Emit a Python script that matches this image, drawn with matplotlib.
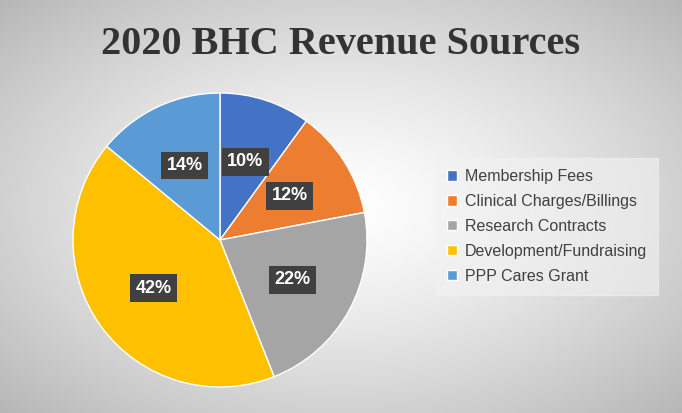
import matplotlib
matplotlib.use("Agg")
import matplotlib.pyplot as plt
import numpy as np

categories = ["Membership Fees", "Clinical Charges/Billings", "Research Contracts",
              "Development/Fundraising", "PPP Cares Grant"]
values = [10, 12, 22, 42, 14]
colors = ["#4472C4", "#ED7D31", "#A5A5A5", "#FFC000", "#5B9BD5"]

W, H = 682, 413
fig = plt.figure(figsize=(W/100, H/100), dpi=100)

bg = fig.add_axes([0, 0, 1, 1])
yy, xx = np.mgrid[0:H, 0:W]
d = np.sqrt(((xx - W/2) / (W*0.62))**2 + ((yy - H/2) / (H*0.62))**2)
g = np.clip(1 - 0.24*d**1.3, 0, 1)
bg.imshow(np.dstack([g, g, g]), extent=[0, 1, 0, 1], aspect="auto", origin="lower")
bg.axis("off")

fig.text(0.5, 1 - 45/H, "2020 BHC Revenue Sources", ha="center", va="center",
         fontsize=29, fontweight="bold", family="Liberation Serif", color="#333333")

R = 147
cx, cy = 220, 240
ax = fig.add_axes([(cx-R)/W, (H-cy-R)/H, 2*R/W, 2*R/H])
wedges, texts, autotexts = ax.pie(values, colors=colors, startangle=90, counterclock=False,
                                  autopct="%d%%", pctdistance=0.56,
                                  wedgeprops=dict(edgecolor="white", linewidth=1))
for t in autotexts:
    t.set_color("white"); t.set_fontweight("bold"); t.set_fontsize(13)
    t.set_family("Liberation Sans")
    t.set_bbox(dict(boxstyle="square,pad=0.3", facecolor="#404040", edgecolor="none"))
ax.set_xlim(-1, 1); ax.set_ylim(-1, 1)
ax.set_aspect("equal")

leg = fig.legend(wedges, categories, loc="upper left",
                 bbox_to_anchor=(428/W, 1 - 150/H), frameon=True, fancybox=False,
                 prop=dict(family="Liberation Sans", size=11.5), labelcolor="#404040",
                 handlelength=0.6, handleheight=0.6, handletextpad=0.5,
                 labelspacing=0.62, borderpad=0.7)
leg.get_frame().set_facecolor("#f2f2f2")
leg.get_frame().set_edgecolor("#f2f2f2")
leg.get_frame().set_alpha(0.6)

fig.savefig("out.png", dpi=100)
